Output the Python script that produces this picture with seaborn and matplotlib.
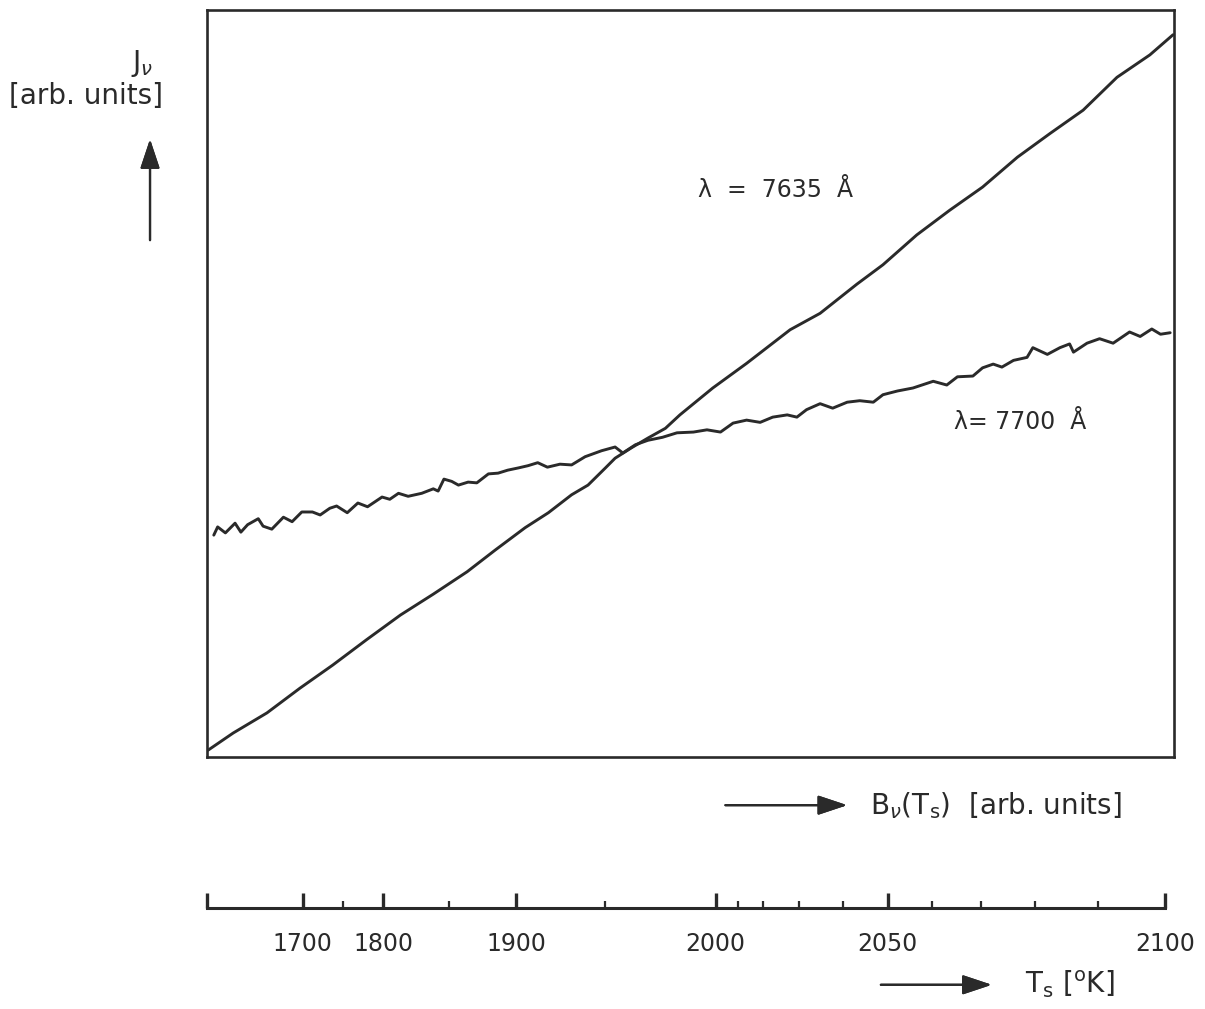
import matplotlib
matplotlib.use("Agg")
import matplotlib.pyplot as plt
import pandas as pd
import seaborn as sns

# B_nu(Ts) and J_nu, both in arbitrary units (0..100 across the frame)
b_7635 = [0.1, 2.7, 6.2, 9.6, 13.0, 16.5, 20.0, 23.4, 26.9, 29.8, 32.9, 35.3, 37.7, 39.4,
          41.2, 42.2, 43.9, 45.6, 47.4, 48.9, 52.3, 55.8, 57.9, 60.3, 63.4, 67.2, 69.9,
          73.4, 76.8, 80.2, 83.8, 87.2, 90.6, 94.1, 97.5, 99.9]
j_7635 = [0.9, 3.2, 5.9, 9.2, 12.3, 15.7, 19.0, 21.8, 24.8, 27.7, 30.7, 32.7, 35.1, 36.4,
          38.7, 40.0, 41.4, 42.7, 44.0, 45.8, 49.4, 52.7, 54.8, 57.2, 59.4, 63.3, 65.9,
          69.9, 73.2, 76.3, 80.3, 83.5, 86.6, 91.0, 94.0, 96.7]

b_7700 = [0.7, 1.1, 1.9, 2.9, 3.5, 4.2, 5.3, 5.8, 6.7, 7.9, 8.8, 9.8, 10.9, 11.7, 12.7, 13.4,
          14.5, 15.6, 16.6, 18.1, 18.9, 19.8, 20.8, 22.2, 23.4, 23.9, 24.5, 25.3, 26.0, 27.0,
          27.9, 29.1, 30.1, 31.1, 32.2, 33.2, 34.2, 35.2, 36.5, 37.7, 39.1, 40.8, 42.2, 43.0,
          44.3, 45.6, 47.1, 48.6, 50.3, 51.7, 53.1, 54.4, 55.8, 57.2, 58.5, 60.0, 61.0, 62.0,
          63.4, 64.7, 66.2, 67.5, 68.9, 69.9, 71.4, 73.0, 75.1, 76.5, 77.6, 79.2, 80.2, 81.3,
          82.2, 83.4, 84.8, 85.4, 86.9, 88.2, 89.2, 89.6, 91.0, 92.3, 93.7, 95.4, 96.5, 97.7,
          98.6, 99.6]
j_7700 = [29.7, 30.8, 30.0, 31.3, 30.1, 31.1, 31.9, 30.9, 30.5, 32.1, 31.5, 32.8, 32.8, 32.4,
          33.3, 33.6, 32.7, 34.0, 33.5, 34.8, 34.5, 35.3, 34.9, 35.3, 35.9, 35.6, 37.2, 36.9,
          36.4, 36.8, 36.7, 37.9, 38.0, 38.4, 38.7, 39.0, 39.4, 38.8, 39.2, 39.1, 40.2, 41.0,
          41.5, 40.7, 41.8, 42.4, 42.8, 43.4, 43.5, 43.8, 43.5, 44.7, 45.1, 44.8, 45.5, 45.8,
          45.5, 46.5, 47.3, 46.7, 47.5, 47.7, 47.5, 48.5, 49.0, 49.4, 50.3, 49.8, 50.9, 51.0,
          52.1, 52.6, 52.2, 53.1, 53.5, 54.8, 53.9, 54.8, 55.3, 54.2, 55.4, 56.0, 55.4, 56.9,
          56.3, 57.3, 56.6, 56.8]

# temperature scale below the plot, positions in B units
ts_major_pos = [0.0, 9.9, 18.2, 32.0, 52.6, 70.4, 99.1]
ts_major_lab = ["", "1700", "1800", "1900", "2000", "2050", "2100"]
ts_minor_pos = [14.1, 25.0, 41.2, 54.9, 57.5, 61.2, 65.8, 75.0, 80.0, 85.6, 92.1]

sns.set_style("white")
plt.rcParams["font.family"] = ["DejaVu Sans"]
ink = "#2a2a2a"

df = pd.concat([
    pd.DataFrame({"B": b_7635, "J": j_7635, "line": "7635"}),
    pd.DataFrame({"B": b_7700, "J": j_7700, "line": "7700"}),
])

fig = plt.figure(figsize=(12.05, 10.09), dpi=100)
ax = fig.add_axes([0.1718, 0.2498, 0.8025, 0.7402])
sns.lineplot(data=df, x="B", y="J", units="line", estimator=None, sort=False,
             color=ink, lw=2.1, ax=ax, legend=False)
ax.set_xlim(0, 100)
ax.set_ylim(0, 100)
ax.set_xticks([])
ax.set_yticks([])
ax.set_xlabel("")
ax.set_ylabel("")
for s in ax.spines.values():
    s.set_color(ink)
    s.set_linewidth(1.9)

ax.text(58.8, 75.9, "λ  =  7635  Å", fontsize=17, color=ink, ha="center", va="center")
ax.text(84.1, 44.8, "λ= 7700  Å", fontsize=17, color=ink, ha="center", va="center")

# temperature axis
ax2 = fig.add_axes([0.1718, 0.1001, 0.8025, 0.03])
ax2.set_xlim(0, 100)
ax2.set_ylim(0, 1)
ax2.patch.set_alpha(0)
for k in ["top", "left", "right"]:
    ax2.spines[k].set_visible(False)
ax2.spines["bottom"].set_bounds(ts_major_pos[0], ts_major_pos[-1])
ax2.spines["bottom"].set_linewidth(2.2)
ax2.spines["bottom"].set_color(ink)
ax2.set_yticks([])
ax2.set_xticks(ts_major_pos)
ax2.set_xticklabels(ts_major_lab)
ax2.set_xticks(ts_minor_pos, minor=True)
ax2.tick_params(axis="x", which="major", direction="in", length=11, width=2.4,
                color=ink, labelsize=17, labelcolor=ink, pad=17, bottom=True)
ax2.tick_params(axis="x", which="minor", direction="in", length=5, width=1.6,
                color=ink, bottom=True)

# hand-drawn style labels and arrows
arrow = dict(arrowstyle="-|>,head_length=0.9,head_width=0.3", lw=1.6, color=ink,
             mutation_scale=20, shrinkA=0, shrinkB=0)
fig.text(0.118, 0.937, r"J$_\nu$", fontsize=20, color=ink, ha="center", va="center")
fig.text(0.071, 0.905, "[arb. units]", fontsize=20, color=ink, ha="center", va="center")
fig.add_artist(plt.annotate("", xy=(0.1245, 0.862), xytext=(0.1245, 0.762),
                            xycoords="figure fraction", textcoords="figure fraction",
                            arrowprops=arrow))
fig.add_artist(plt.annotate("", xy=(0.703, 0.202), xytext=(0.602, 0.202),
                            xycoords="figure fraction", textcoords="figure fraction",
                            arrowprops=arrow))
fig.text(0.722, 0.202, r"B$_\nu$(T$_\mathrm{s}$)  [arb. units]", fontsize=20, color=ink,
         ha="left", va="center")
fig.add_artist(plt.annotate("", xy=(0.823, 0.024), xytext=(0.731, 0.024),
                            xycoords="figure fraction", textcoords="figure fraction",
                            arrowprops=arrow))
fig.text(0.851, 0.024, r"T$_\mathrm{s}$ [$^\mathrm{o}$K]", fontsize=20, color=ink,
         ha="left", va="center")

fig.savefig("out.png", dpi=100)
